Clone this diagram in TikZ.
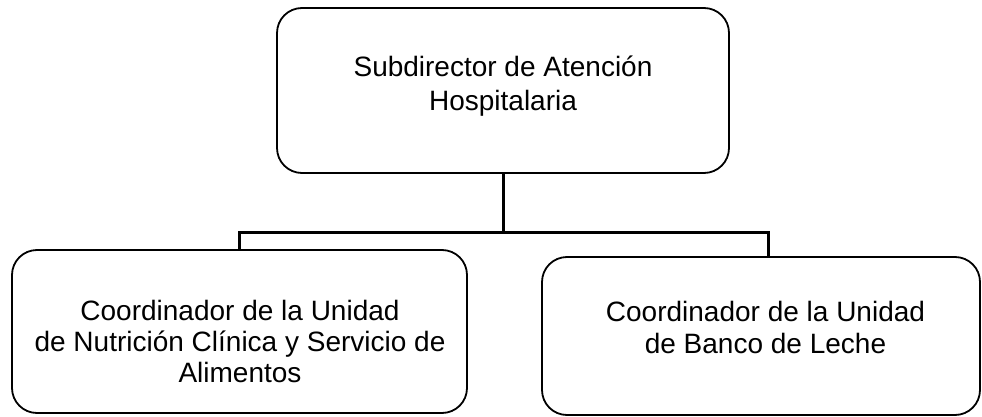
\documentclass[tikz,border=0pt]{standalone}
\usepackage{fontspec}
\setmainfont{Liberation Sans}
\begin{document}
\begin{tikzpicture}[x=1pt,y=-1pt,
  orgbox/.style={draw=black, line width=1.8pt, rounded corners=25pt, inner sep=0pt},
  orgtext/.style={anchor=north, align=center, inner sep=0pt, text=black},
  conn/.style={draw=black, line width=3pt, line join=miter}]
\useasboundingbox (0,0) rectangle (982,417);
% boxes
\node[orgbox, minimum width=452pt, minimum height=165pt] (top) at (503,90.5) {};
\node[orgbox, minimum width=455pt, minimum height=163pt] (left) at (239.5,331.5) {};
\node[orgbox, minimum width=438pt, minimum height=158pt] (right) at (761,336) {};
% texts
\node[orgtext, font={\fontsize{28}{34}\selectfont}] (toptxt) at (503,55.5)
  {Subdirector de Atención\\Hospitalaria};
\node[orgtext, font={\fontsize{28}{31}\selectfont}] (lefttxt) at (240,300)
  {Coordinador de la Unidad\\de Nutrición Clínica y Servicio de\\Alimentos};
\node[orgtext, font={\fontsize{28}{32}\selectfont}] (righttxt) at (765.5,301.5)
  {Coordinador de la Unidad\\de Banco de Leche};
% connectors
\coordinate (bar) at (503,232);
\draw[conn] (top.south) -- (bar);
\draw[conn] (left.north) |- (bar) -| ([xshift=7pt]right.north);
\end{tikzpicture}
\end{document}
